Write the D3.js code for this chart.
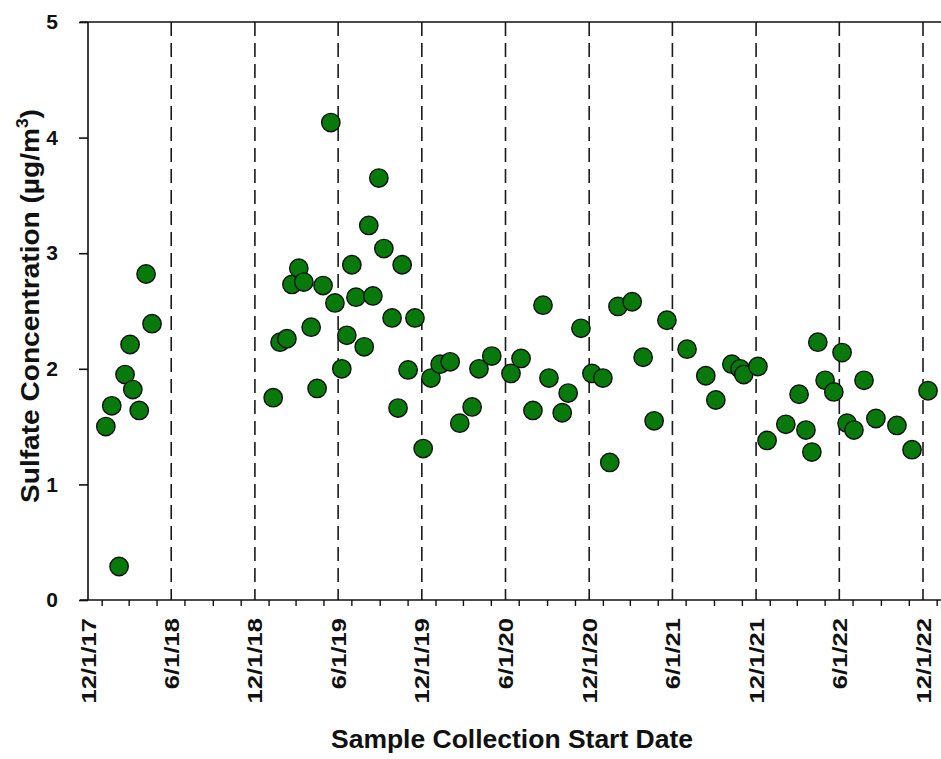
<!DOCTYPE html>
<html>
<head>
<meta charset="utf-8">
<script src="https://cdn.jsdelivr.net/npm/d3@7"></script>
<style>
  html, body { margin: 0; padding: 0; background: #fff; }
  svg { display: block; font-family: Arial, "Liberation Sans", sans-serif; }
</style>
</head>
<body>
<svg id="chart" width="941" height="759"></svg>
<script>
// Sample collection start dates and measured sulfate concentrations (µg/m³)
const sampleDates = [
  "2018-01-09","2018-01-22","2018-02-07","2018-02-20","2018-03-03","2018-03-09","2018-03-23","2018-04-07","2018-04-20",
  "2019-01-10","2019-01-25","2019-02-09","2019-02-20","2019-03-07","2019-03-18","2019-04-03","2019-04-16","2019-04-29",
  "2019-05-16","2019-05-25","2019-06-09","2019-06-20","2019-07-01","2019-07-10","2019-07-28","2019-08-07","2019-08-16",
  "2019-08-29","2019-09-09","2019-09-27","2019-10-10","2019-10-19","2019-11-01","2019-11-16","2019-12-04","2019-12-21",
  "2020-01-10","2020-02-01","2020-02-22","2020-03-20","2020-04-04","2020-05-02","2020-06-13","2020-07-05","2020-07-31",
  "2020-08-22","2020-09-04","2020-10-03","2020-10-16","2020-11-13","2020-12-07","2020-12-31","2021-01-15","2021-02-02",
  "2021-03-05","2021-03-29","2021-04-22","2021-05-20","2021-07-03","2021-08-13","2021-09-04","2021-10-09","2021-10-27",
  "2021-11-04","2021-12-05","2021-12-25","2022-02-04","2022-03-05","2022-03-20","2022-04-02","2022-04-15","2022-05-01",
  "2022-05-20","2022-06-07","2022-06-18","2022-07-03","2022-07-25","2022-08-20","2022-10-05","2022-11-07","2022-12-12"
];
const sulfate = [
  1.50, 1.68, 0.29, 1.95, 2.21, 1.82, 1.64, 2.82, 2.39,
  1.75, 2.23, 2.26, 2.73, 2.87, 2.75, 2.36, 1.83, 2.72,
  4.13, 2.57, 2.00, 2.29, 2.90, 2.62, 2.19, 3.24, 2.63,
  3.65, 3.04, 2.44, 1.66, 2.90, 1.99, 2.44, 1.31, 1.92,
  2.04, 2.06, 1.53, 1.67, 2.00, 2.11, 1.96, 2.09, 1.64,
  2.55, 1.92, 1.62, 1.79, 2.35, 1.96, 1.92, 1.19, 2.54,
  2.58, 2.10, 1.55, 2.42, 2.17, 1.94, 1.73, 2.04, 2.00,
  1.95, 2.02, 1.38, 1.52, 1.78, 1.47, 1.28, 2.23, 1.90,
  1.80, 2.14, 1.53, 1.47, 1.90, 1.57, 1.51, 1.30, 1.81
];

// Axis ticks
const xMajorTicks = ["2017-12-01","2018-06-01","2018-12-01","2019-06-01","2019-12-01","2020-06-01",
                     "2020-12-01","2021-06-01","2021-12-01","2022-06-01","2022-12-01"];
const xTickLabels = ["12/1/17","6/1/18","12/1/18","6/1/19","12/1/19","6/1/20",
                     "12/1/20","6/1/21","12/1/21","6/1/22","12/1/22"];
const yTicks = [0, 1, 2, 3, 4, 5];

const parse = d3.utcParse("%Y-%m-%d");
const points = sampleDates.map((d, i) => ({ date: parse(d), value: sulfate[i] }));
const majors = xMajorTicks.map(parse);

const svg = d3.select("#chart");
const plotLeft = 88, plotRight = 941, plotTop = 22, plotBottom = 600;

const x = d3.scaleUtc()
  .domain([parse("2017-12-01"), parse("2022-12-01")])
  .range([plotLeft, 923]);
const y = d3.scaleLinear().domain([0, 5]).range([plotBottom, plotTop]);

// Dashed reference lines at each half-year boundary
svg.append("g")
  .selectAll("line")
  .data(majors.slice(1))
  .join("line")
  .attr("x1", d => x(d)).attr("x2", d => x(d))
  .attr("y1", plotTop).attr("y2", plotBottom)
  .attr("stroke", "#1a1a1a")
  .attr("stroke-width", 1.6)
  .attr("stroke-dasharray", "14,7");

// Minor x ticks every two months, pointing outward
const minorTicks = d3.utcMonth.every(2).range(parse("2017-12-01"), parse("2023-01-10"))
  .filter(d => !majors.some(m => +m === +d));
svg.append("g")
  .selectAll("line")
  .data(minorTicks)
  .join("line")
  .attr("x1", d => x(d)).attr("x2", d => x(d))
  .attr("y1", plotBottom).attr("y2", plotBottom + 6)
  .attr("stroke", "#111").attr("stroke-width", 1.4);

// Frame: bottom axis, left axis, top border
const frame = svg.append("g").attr("stroke", "#111").attr("stroke-width", 1.6);
frame.append("line").attr("x1", plotLeft - 8).attr("x2", plotRight).attr("y1", plotBottom).attr("y2", plotBottom);
frame.append("line").attr("x1", plotLeft - 8).attr("x2", plotRight).attr("y1", plotTop).attr("y2", plotTop);
frame.append("line").attr("x1", plotLeft).attr("x2", plotLeft).attr("y1", plotTop).attr("y2", plotBottom);

// Y axis ticks and labels
const yAxis = d3.axisLeft(y).tickValues(yTicks).tickSize(9).tickPadding(21).tickFormat(d3.format("d"));
const gy = svg.append("g").attr("transform", `translate(${plotLeft},0)`).call(yAxis);
gy.select(".domain").remove();
gy.selectAll(".tick line").attr("stroke", "#111").attr("stroke-width", 1.6);
gy.selectAll(".tick text")
  .attr("font-size", 21).attr("font-weight", "bold").attr("fill", "#111")
  .attr("font-family", "Arial, 'Liberation Sans', sans-serif");

// X tick labels, rotated
svg.append("g")
  .selectAll("text")
  .data(majors)
  .join("text")
  .attr("transform", d => `translate(${x(d) + 7.5},618) rotate(-90) scale(1.28,1)`)
  .attr("text-anchor", "end")
  .attr("font-size", 20)
  .attr("font-weight", "bold")
  .attr("fill", "#111")
  .text((d, i) => xTickLabels[i]);

// Data points
svg.append("g")
  .selectAll("circle")
  .data(points)
  .join("circle")
  .attr("cx", d => x(d.date))
  .attr("cy", d => y(d.value))
  .attr("r", 9.2)
  .attr("fill", "#087a0c")
  .attr("stroke", "#111")
  .attr("stroke-width", 1.4);

// Axis titles
svg.append("text")
  .attr("x", 512).attr("y", 748)
  .attr("text-anchor", "middle")
  .attr("font-size", 25).attr("font-weight", "bold").attr("fill", "#111")
  .attr("textLength", 362).attr("lengthAdjust", "spacingAndGlyphs")
  .text("Sample Collection Start Date");

const yTitle = svg.append("text")
  .attr("transform", "translate(39,306) rotate(-90) scale(1.08,1)")
  .attr("text-anchor", "middle")
  .attr("font-size", 26).attr("font-weight", "bold").attr("fill", "#111");
yTitle.append("tspan").text("Sulfate Concentration (µg/m");
yTitle.append("tspan").attr("font-size", 16).attr("dy", -11).text("3");
yTitle.append("tspan").attr("dy", 11).text(")");
</script>
</body>
</html>
